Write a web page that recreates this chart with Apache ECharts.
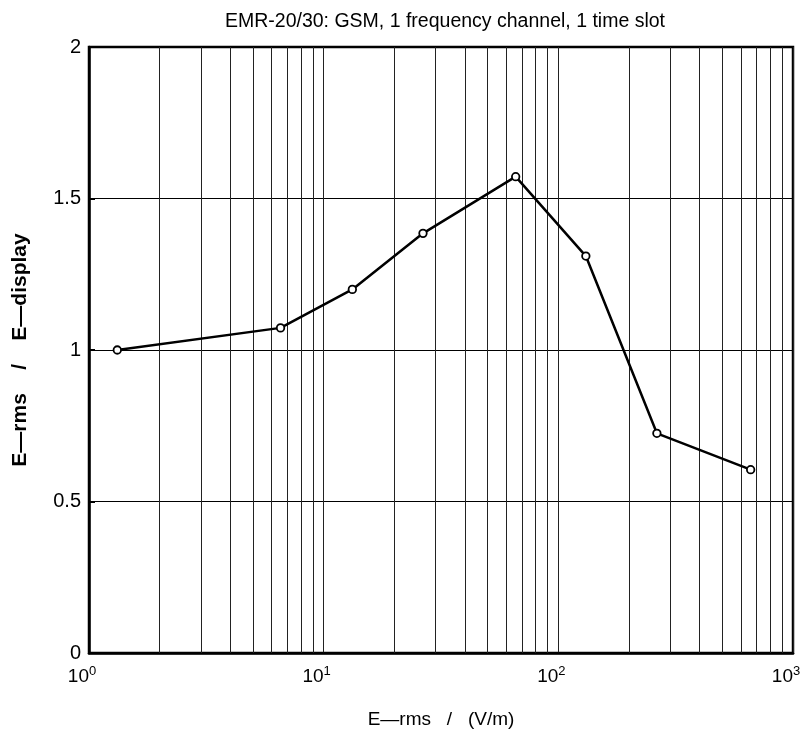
<!DOCTYPE html>
<html>
<head>
<meta charset="utf-8">
<script src="https://cdn.jsdelivr.net/npm/echarts@6/dist/echarts.min.js"></script>
<style>html,body{margin:0;padding:0;background:#fff;}#c{width:803px;height:749px;}</style>
</head>
<body>
<div id="c"></div>
<script>
const titleText = 'EMR-20/30: GSM, 1 frequency channel, 1 time slot';
const xName = 'E\u2014rms   /   (V/m)';
const yName = 'E\u2014rms    /    E\u2014display';
const eRms = [1.32, 6.55, 13.25, 26.5, 65.8, 131, 263, 660];
const ratio = [1.0, 1.073, 1.2, 1.385, 1.572, 1.31, 0.725, 0.605];
const minorGrid = [2,3,4,5,6,7,8,9,20,30,40,50,60,70,80,90,200,300,400,500,600,700,800,900];
const yTicks = [0, 0.5, 1, 1.5, 2];
const font = 'Liberation Sans';

const chart = echarts.init(document.getElementById('c'), null, {renderer: 'canvas'});
chart.setOption({
  backgroundColor: '#fff',
  animation: false,
  title: {
    text: titleText, left: 440, top: 7, textAlign: 'center',
    textStyle: {fontFamily: font, fontSize: 19.5, fontWeight: 'normal', color: '#000'}
  },
  grid: {left: 89, right: 10, top: 47, bottom: 96, containLabel: false, outerBoundsMode: 'none',
    show: true, borderColor: '#000', borderWidth: 2.5, backgroundColor: 'transparent'},
  xAxis: {
    type: 'log', logBase: 10, min: 1, max: 1000,
    name: xName, nameLocation: 'middle', nameGap: 57,
    nameTextStyle: {fontFamily: font, fontSize: 19, color: '#000'},
    axisLine: {show: true, lineStyle: {color: '#000', width: 2.5}},
    axisTick: {show: false},
    splitLine: {show: true, lineStyle: {color: '#222', width: 1}},
    axisLabel: {
      margin: 12, color: '#000', padding: [0, 14, 0, 0],
      formatter: function (v) { return '{b|10}{s|' + Math.round(Math.log10(v)) + '}'; },
      rich: {
        b: {fontFamily: font, fontSize: 19, color: '#000'},
        s: {fontFamily: font, fontSize: 13, color: '#000', padding: [0, 0, 11, 0]}
      }
    }
  },
  yAxis: {
    type: 'value', min: 0, max: 2, interval: 0.5,
    name: yName, nameLocation: 'middle', nameGap: 58, nameRotate: 90,
    nameTextStyle: {fontFamily: font, fontSize: 21, fontWeight: 'bold', color: '#000'},
    axisLine: {show: true, lineStyle: {color: '#000', width: 2.5}},
    axisTick: {show: true, inside: true, length: 6, lineStyle: {color: '#000', width: 2}},
    splitLine: {show: true, lineStyle: {color: '#000', width: 1}},
    axisLabel: {
      margin: 8, color: '#000', fontFamily: font, fontSize: 20,
      formatter: function (v) { return yTicks.indexOf(v) >= 0 ? String(v) : ''; }
    }
  },
  series: [{
    type: 'line',
    data: eRms.map((x, i) => [x, ratio[i]]),
    lineStyle: {color: '#000', width: 2.5},
    symbol: 'circle', symbolSize: 7.5,
    itemStyle: {color: '#fff', borderColor: '#000', borderWidth: 1.8},
    z: 5,
    markLine: {
      silent: true, symbol: 'none', animation: false,
      label: {show: false},
      lineStyle: {color: '#222', width: 1, type: 'solid'},
      data: minorGrid.map(v => ({xAxis: v}))
    }
  }]
});
</script>
</body>
</html>
